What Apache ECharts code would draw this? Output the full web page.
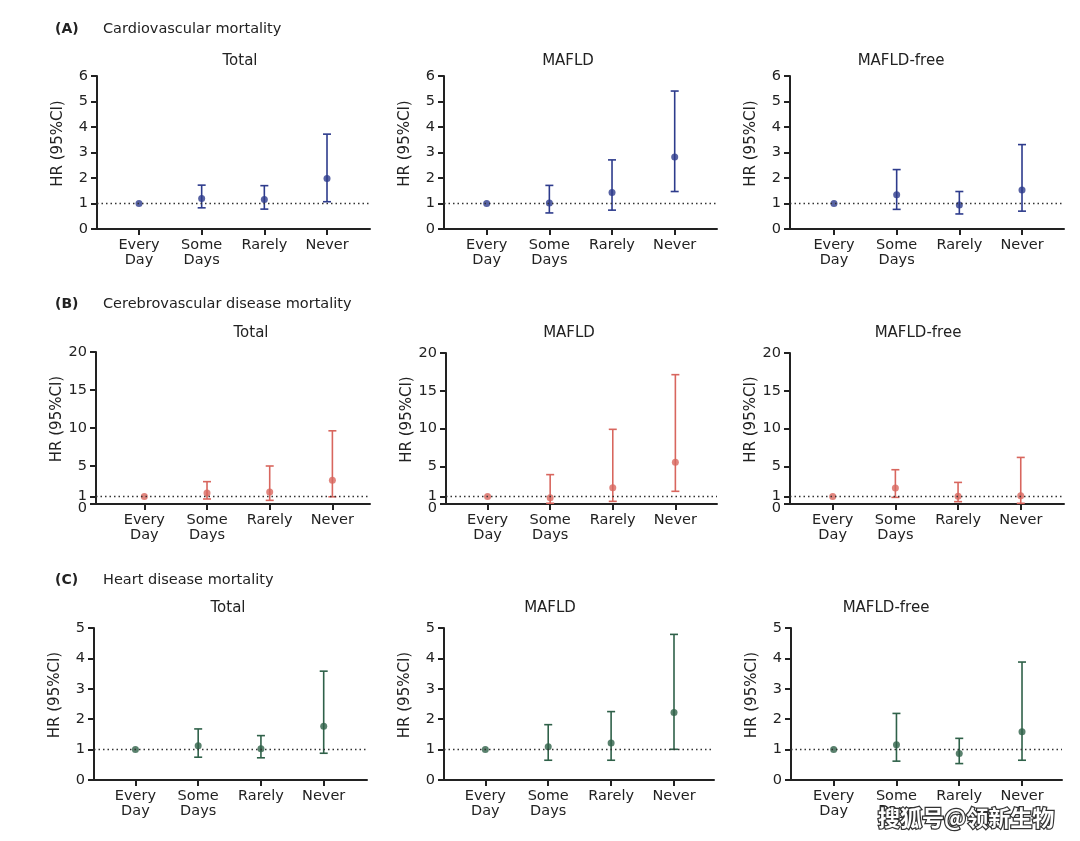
<!DOCTYPE html>
<html>
<head>
<meta charset="utf-8">
<script src="https://cdn.jsdelivr.net/npm/echarts@6/dist/echarts.min.js"></script>
<style>
html,body{margin:0;padding:0;background:#fff;}
#chart{width:1080px;height:841px;}
</style>
</head>
<body>
<div id="chart"></div>
<script>
// ---------------- DATA ----------------
const categories = ['Every\nDay', 'Some\nDays', 'Rarely', 'Never'];
const panelTitles = ['Total', 'MAFLD', 'MAFLD-free'];
const sectionLetters = ['(A)', '(B)', '(C)'];
const sectionTitles = ['Cardiovascular mortality', 'Cerebrovascular disease mortality', 'Heart disease mortality'];
const yAxisName = 'HR (95%CI)';
const watermark = '搜狐号@领新生物';

// (A) Cardiovascular mortality: HR, lower CI, upper CI (Every Day = reference)
const cvTotalHR    = [1, 1.20, 1.16, 1.98];
const cvTotalLow   = [null, 0.83, 0.78, 1.07];
const cvTotalHigh  = [null, 1.72, 1.70, 3.72];
const cvMafldHR    = [1, 1.02, 1.43, 2.82];
const cvMafldLow   = [null, 0.63, 0.74, 1.47];
const cvMafldHigh  = [null, 1.71, 2.71, 5.41];
const cvFreeHR     = [1, 1.34, 0.94, 1.53];
const cvFreeLow    = [null, 0.77, 0.59, 0.70];
const cvFreeHigh   = [null, 2.33, 1.47, 3.31];

// (B) Cerebrovascular disease mortality
const cbTotalHR    = [1, 1.45, 1.58, 3.12];
const cbTotalLow   = [null, 0.66, 0.48, 0.95];
const cbTotalHigh  = [null, 2.94, 5.00, 9.63];
const cbMafldHR    = [1, 0.84, 2.16, 5.52];
const cbMafldLow   = [null, 0.10, 0.35, 1.68];
const cbMafldHigh  = [null, 3.89, 9.89, 17.13];
const cbFreeHR     = [1, 2.11, 1.01, 1.10];
const cbFreeLow    = [null, 0.88, 0.31, 0.09];
const cbFreeHigh   = [null, 4.54, 2.86, 6.17];

// (C) Heart disease mortality
const hdTotalHR    = [1, 1.13, 1.03, 1.77];
const hdTotalLow   = [null, 0.75, 0.73, 0.88];
const hdTotalHigh  = [null, 1.68, 1.46, 3.58];
const hdMafldHR    = [1, 1.09, 1.22, 2.22];
const hdMafldLow   = [null, 0.65, 0.65, 1.01];
const hdMafldHigh  = [null, 1.82, 2.25, 4.79];
const hdFreeHR     = [1, 1.16, 0.87, 1.59];
const hdFreeLow    = [null, 0.62, 0.54, 0.65];
const hdFreeHigh   = [null, 2.19, 1.37, 3.88];

// y-axis tick labels per section
const yTicksA = [0, 1, 2, 3, 4, 5, 6];
const yTicksB = [0, 1, 5, 10, 15, 20];
const yTicksC = [0, 1, 2, 3, 4, 5];
const refLine = 1;

// ---------------- LAYOUT / STYLE ----------------
const FONT = '"DejaVu Sans", "Liberation Sans", Arial, sans-serif';
const TXT = '#222';
const sectionColors = ['#2d3b8c', '#d8665e', '#2f6149'];

const panels = [
  // row A
  {hr: cvTotalHR, lo: cvTotalLow, hi: cvTotalHigh, row: 0, col: 0, left: 97,  top: 76,  width: 273, height: 153, xmin: 0.330, xmax: 4.686, titleX: 240, titleY: 61},
  {hr: cvMafldHR, lo: cvMafldLow, hi: cvMafldHigh, row: 0, col: 1, left: 444, top: 76,  width: 273, height: 153, xmin: 0.319, xmax: 4.675, titleX: 568, titleY: 61},
  {hr: cvFreeHR,  lo: cvFreeLow,  hi: cvFreeHigh,  row: 0, col: 2, left: 790, top: 76,  width: 274, height: 153, xmin: 0.298, xmax: 4.670, titleX: 901, titleY: 61},
  // row B
  {hr: cbTotalHR, lo: cbTotalLow, hi: cbTotalHigh, row: 1, col: 0, left: 96,  top: 352, width: 274, height: 152, xmin: 0.229, xmax: 4.600, titleX: 251, titleY: 333},
  {hr: cbMafldHR, lo: cbMafldLow, hi: cbMafldHigh, row: 1, col: 1, left: 446, top: 353, width: 271, height: 151, xmin: 0.336, xmax: 4.665, titleX: 569, titleY: 333},
  {hr: cbFreeHR,  lo: cbFreeLow,  hi: cbFreeHigh,  row: 1, col: 2, left: 790, top: 353, width: 274, height: 151, xmin: 0.319, xmax: 4.690, titleX: 918, titleY: 333},
  // row C
  {hr: hdTotalHR, lo: hdTotalLow, hi: hdTotalHigh, row: 2, col: 0, left: 94,  top: 628, width: 273, height: 152, xmin: 0.340, xmax: 4.690, titleX: 228, titleY: 608},
  {hr: hdMafldHR, lo: hdMafldLow, hi: hdMafldHigh, row: 2, col: 1, left: 444, top: 628, width: 270, height: 152, xmin: 0.343, xmax: 4.636, titleX: 550, titleY: 608},
  {hr: hdFreeHR,  lo: hdFreeLow,  hi: hdFreeHigh,  row: 2, col: 2, left: 791, top: 628, width: 271, height: 152, xmin: 0.320, xmax: 4.637, titleX: 886, titleY: 608}
];
const rowTicks = [yTicksA, yTicksB, yTicksC];
const sectionY = [29, 304, 580];

const grids = [], xAxes = [], yAxes = [], extraY = [], series = [], graphics = [];
const labelBase = {color: TXT, fontFamily: FONT, fontSize: 14.5};

panels.forEach((p, i) => {
  const color = sectionColors[p.row];
  const ticks = rowTicks[p.row];
  grids.push({left: p.left, top: p.top, width: p.width, height: p.height, containLabel: false});
  const xs = categories.map((c, k) => k + 1);
  xAxes.push({
    type: 'value', gridIndex: i, min: p.xmin, max: p.xmax,
    splitLine: {show: false},
    axisLine: {show: true, onZero: false, lineStyle: {color: TXT, width: 2}},
    axisTick: {show: true, customValues: xs, length: 6, lineStyle: {color: TXT, width: 2}},
    axisLabel: Object.assign({
      show: true, customValues: xs, hideOverlap: false,
      formatter: v => categories[Math.round(v) - 1] || '',
      lineHeight: 15, margin: 9, verticalAlign: 'top'
    }, labelBase)
  });
  // when "0" and "1" are very close (section B), the "0" label is drawn by a label-only axis, nudged down
  const crowded = ticks.indexOf(1) === 1 && ticks[2] > 2;
  const mainLabels = crowded ? ticks.slice(1) : ticks;
  const yMin = ticks[0], yMax = ticks[ticks.length - 1];
  yAxes.push({
    type: 'value', gridIndex: i, min: yMin, max: yMax, position: 'left',
    splitLine: {show: false},
    name: yAxisName, nameLocation: 'middle', nameGap: 31, nameRotate: 90,
    nameTextStyle: {color: TXT, fontFamily: FONT, fontSize: 15, padding: [0, 0, 0, 18]},
    axisLine: {show: true, lineStyle: {color: TXT, width: 2}},
    axisTick: {show: true, customValues: ticks, length: 6, lineStyle: {color: TXT, width: 2}},
    axisLabel: Object.assign({show: true, customValues: mainLabels, hideOverlap: false, margin: 9}, labelBase)
  });
  if (crowded) {
    extraY.push({
      type: 'value', gridIndex: i, min: yMin, max: yMax, position: 'left', offset: 0,
      splitLine: {show: false}, axisLine: {show: false}, axisTick: {show: false},
      axisLabel: {
        show: true, customValues: [ticks[0]], margin: 9,
        formatter: v => '{low|' + v + '}',
        rich: {low: Object.assign({padding: [9, 0, 0, 0]}, labelBase)}
      }
    });
  }
  // error bars
  const errData = xs.map((x, k) => [x, p.lo[k], p.hi[k]]).filter(d => d[1] != null);
  series.push({
    type: 'custom', xAxisIndex: i, yAxisIndex: i, silent: true, z: 3,
    data: errData,
    renderItem: (params, api) => {
      const x = api.value(0);
      const top = api.coord([x, api.value(2)]);
      const bot = api.coord([x, api.value(1)]);
      const cap = 4;
      const st = {stroke: color, lineWidth: 1.6};
      return {type: 'group', children: [
        {type: 'line', shape: {x1: top[0], y1: top[1], x2: bot[0], y2: bot[1]}, style: st},
        {type: 'line', shape: {x1: top[0] - cap, y1: top[1], x2: top[0] + cap, y2: top[1]}, style: st},
        {type: 'line', shape: {x1: bot[0] - cap, y1: bot[1], x2: bot[0] + cap, y2: bot[1]}, style: st}
      ]};
    }
  });
  // points + reference line
  series.push({
    type: 'scatter', xAxisIndex: i, yAxisIndex: i, silent: true, z: 4,
    symbol: 'circle', symbolSize: 7,
    itemStyle: {color: color},
    data: xs.map((x, k) => [x, p.hr[k]]),
    markLine: {
      silent: true, symbol: ['none', 'none'], label: {show: false},
      lineStyle: {color: '#333', type: [1.5, 3], width: 1.3},
      data: [{yAxis: refLine}]
    }
  });
  graphics.push({
    type: 'text', x: p.titleX, y: p.titleY, z: 10,
    style: {text: panelTitles[p.col], fill: TXT, font: '15px ' + FONT, textAlign: 'center', textVerticalAlign: 'middle'}
  });
});

sectionLetters.forEach((l, r) => {
  graphics.push({type: 'text', x: 55, y: sectionY[r], style: {text: l, fill: TXT, font: 'bold 14px ' + FONT, textVerticalAlign: 'middle'}});
  graphics.push({type: 'text', x: 103, y: sectionY[r], style: {text: sectionTitles[r], fill: TXT, font: '14.5px ' + FONT, textVerticalAlign: 'middle'}});
});

graphics.push({
  type: 'text', x: 878, y: 818, z: 20,
  style: {text: watermark, fill: '#ffffff', stroke: '#333', lineWidth: 2.5, font: 'bold 22px "Noto Sans CJK SC", sans-serif', textVerticalAlign: 'middle'}
});

const chart = echarts.init(document.getElementById('chart'), null, {renderer: 'canvas'});
chart.setOption({
  animation: false,
  backgroundColor: '#fff',
  grid: grids,
  xAxis: xAxes,
  yAxis: yAxes.concat(extraY),
  series: series,
  graphic: graphics
});
</script>
</body>
</html>
